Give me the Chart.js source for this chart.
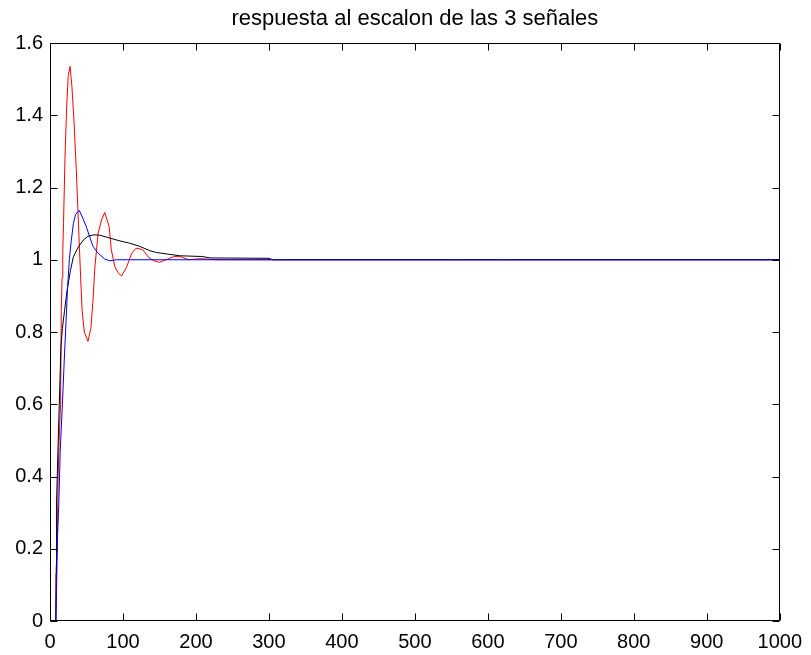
<!DOCTYPE html>
<html>
<head>
<meta charset="utf-8">
<script src="https://cdn.jsdelivr.net/npm/chart.js@4/dist/chart.umd.min.js"></script>
<style>
html,body{margin:0;padding:0;background:#fff;}
#c{display:block;}
</style>
</head>
<body>
<canvas id="c" width="811" height="655"></canvas>
<script>
const titleText = "respuesta al escalon de las 3 señales";
const xTicks = [0,100,200,300,400,500,600,700,800,900,1000];
const yTicks = [0,0.2,0.4,0.6,0.8,1,1.2,1.4,1.6];

const tRed = [0,8,8.3,10,11,12.5,14.5,15.5,16.5,17.5,18.5,20.5,22.8,25,27.5,30,33,36,38,40,42,44,47,52,56,59,61.5,66,70.6,75,81,84,88.8,93,98,105,112,118,127,134,141,150,159,170,180,190,205,230,1000];
const yRed = [0,0,0.14,0.2,0.39,0.5,0.6,0.86,0.95,1.02,1.1,1.28,1.42,1.51,1.535,1.48,1.38,1.25,1.15,1.05,0.95,0.86,0.8,0.774,0.81,0.889,0.98,1.074,1.11,1.131,1.092,1.028,0.981,0.965,0.955,0.98,1.018,1.032,1.028,1.009,0.998,0.993,1.0,1.009,1.008,1.0,1.003,1.0,1.0];

const tBlue = [0,8,9,10,12,14,17,19.5,22,24,26.5,29,32,35,40,45,50,55,59,66,75,82,91,1000];
const yBlue = [0,0,0.09,0.22,0.32,0.47,0.6,0.72,0.83,0.92,1.0,1.05,1.1,1.125,1.137,1.115,1.09,1.06,1.037,1.018,1.002,0.997,1.0,1.0];

const tBlack = [0,8,8.5,9,11,13,15,17,20,23,28,32,39,46,52,60,68,82,96,109,123,137,146,160,178,208,220,300,305,1000];
const yBlack = [0,0,0.13,0.33,0.48,0.62,0.76,0.81,0.86,0.91,0.97,1.008,1.036,1.055,1.065,1.069,1.068,1.06,1.052,1.046,1.037,1.025,1.02,1.016,1.011,1.009,1.005,1.004,1.0,1.0];

function pts(t, y){ return t.map((v,i)=>({x:v,y:y[i]})); }

const FONT = "Liberation Sans, Arial, Helvetica, sans-serif";

const framePlugin = {
  id: 'frame',
  afterDraw(chart){
    const ctx = chart.ctx, a = chart.chartArea;
    const xs = chart.scales.x, ys = chart.scales.y;
    ctx.save();
    ctx.strokeStyle = '#000';
    ctx.lineWidth = 1;
    const L = Math.round(a.left)+0.5, R = Math.round(a.right)-0.5, T = Math.round(a.top)+0.5, B = Math.round(a.bottom)-0.5;
    ctx.beginPath();
    ctx.rect(L, T, R-L, B-T);
    ctx.stroke();
    const tl = 7;
    ctx.beginPath();
    xTicks.forEach(v=>{
      const px = Math.round(xs.getPixelForValue(v))+0.5;
      ctx.moveTo(px,B); ctx.lineTo(px,B-tl);
      ctx.moveTo(px,T); ctx.lineTo(px,T+tl);
    });
    yTicks.forEach(v=>{
      const py = Math.round(ys.getPixelForValue(v))+0.5;
      ctx.moveTo(L,py); ctx.lineTo(L+tl,py);
      ctx.moveTo(R,py); ctx.lineTo(R-tl,py);
    });
    ctx.stroke();
    ctx.fillStyle = '#000';
    ctx.font = '22px ' + FONT;
    ctx.textAlign = 'center';
    ctx.textBaseline = 'middle';
    ctx.fillText(titleText, (a.left+a.right)/2, 19);
    ctx.restore();
  }
};

new Chart(document.getElementById('c'), {
  type: 'line',
  data: {
    datasets: [
      {label:'azul', data: pts(tBlue,yBlue), borderColor:'#0000ff', borderWidth:1, pointRadius:0, fill:false, tension:0},
      {label:'negro', data: pts(tBlack,yBlack), borderColor:'#000000', borderWidth:1, pointRadius:0, fill:false, tension:0},
      {label:'rojo', data: pts(tRed,yRed), borderColor:'#ff0000', borderWidth:1, pointRadius:0, fill:false, tension:0}
    ]
  },
  options: {
    responsive: false,
    animation: false,
    devicePixelRatio: 1,
    layout: { padding: { top: 43, right: 29, left: 0, bottom: 0 } },
    plugins: { legend: {display:false}, title: {display:false}, tooltip:{enabled:false} },
    scales: {
      x: {
        type: 'linear', min: 0, max: 1000,
        afterBuildTicks(s){ s.ticks = xTicks.map(v=>({value:v})); },
        afterFit(s){ s.height = 34; },
        grid: { display:false, drawTicks:false },
        border: { display:false },
        ticks: { color:'#000', font:{ size:20, family:FONT }, padding: 9, maxRotation:0, autoSkip:false,
          callback: v => String(v) }
      },
      y: {
        type: 'linear', min: 0, max: 1.6,
        afterBuildTicks(s){ s.ticks = yTicks.map(v=>({value:v})); },
        afterFit(s){ s.width = 50; },
        grid: { display:false, drawTicks:false },
        border: { display:false },
        ticks: { color:'#000', font:{ size:20, family:FONT }, padding: 7, autoSkip:false,
          callback: v => String(Math.round(v*10)/10) }
      }
    }
  },
  plugins: [framePlugin]
});
</script>
</body>
</html>
